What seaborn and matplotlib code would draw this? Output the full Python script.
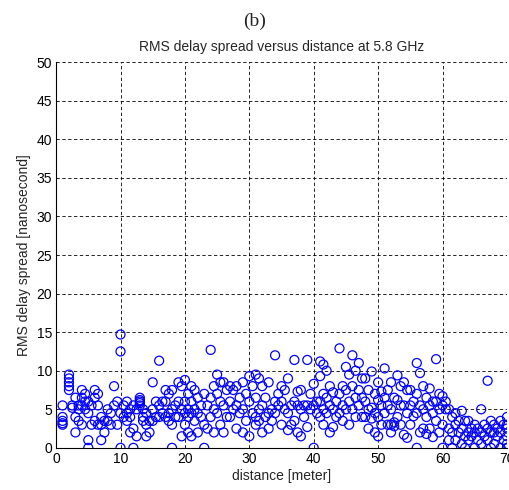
import pandas as pd
import matplotlib.pyplot as plt
import seaborn as sns

# RMS delay spread [ns] read per distance step [m]
dist_01_10 = [1, 2, 2.5, 3, 3.5, 4, 4.5, 5, 5.5, 6, 6.5, 7, 7.5, 8, 8.5, 9, 9.5, 10, 10.5]
tau_01_10 = [
    [5.5, 4.0, 3.5, 3.2, 3.0], [9.5, 9.0, 8.5, 8.0, 7.5], [5.5, 5.2],
    [6.5, 4.0, 2.0], [5.5, 5.0, 3.5], [7.5, 6.5, 5.5, 3.0], [7.0, 6.0, 5.0],
    [6.0, 4.5, 1.0, 0.0], [5.5, 3.0], [7.5, 6.5, 3.5], [7.0, 5.5, 3.0],
    [4.0, 3.0, 1.0], [3.5, 2.0], [5.0, 3.5], [4.5, 3.0], [8.0, 5.5], [6.0, 3.0],
    [14.7, 12.5, 4.5, 0.0], [5.5, 4.0],
]
dist_11_20 = [11, 11.5, 12, 12.5, 13, 13.5, 14, 14.5, 15, 15.5,
              16, 16.5, 17, 17.5, 18, 18.5, 19, 19.5, 20, 20.5]
tau_11_20 = [
    [6.0, 4.5, 3.5], [5.0, 4.0, 2.0], [5.5, 2.5, 0.0], [5.0, 1.5],
    [6.5, 6.2, 6.0, 5.8, 5.5], [5.0, 4.0, 3.5], [4.5, 3.0, 1.5], [3.5, 2.0],
    [8.5, 5.0, 3.5], [6.0, 4.0], [11.3, 5.5, 4.0], [6.0, 4.5],
    [7.5, 6.0, 4.0], [7.0, 4.5, 3.5], [7.5, 5.0, 3.0, 0.0], [5.5, 4.0],
    [8.5, 6.0, 4.0], [8.0, 5.0, 1.5], [8.8, 6.0, 4.5, 3.0], [7.0, 5.0, 4.0, 2.0],
]
dist_21_30 = [21, 21.5, 22, 22.5, 23, 23.5, 24, 24.5, 25, 25.5,
              26, 26.5, 27, 27.5, 28, 28.5, 29, 29.5, 30, 30.5]
tau_21_30 = [
    [8.0, 6.0, 4.5, 1.5], [7.5, 5.0, 3.5], [6.5, 4.5, 2.0], [5.5, 4.0],
    [7.0, 3.0, 0.0], [5.5, 2.5], [12.7, 6.5, 4.0], [8.0, 5.0, 2.0],
    [9.5, 7.0, 4.5], [8.5, 6.0, 3.0], [8.5, 5.5, 2.0], [7.5, 4.0],
    [8.0, 6.0, 4.0], [7.5, 5.0], [8.0, 5.5, 2.5], [6.5, 4.5],
    [8.5, 5.0, 2.0], [7.0, 3.5], [9.3, 6.0, 1.5], [8.0, 4.5],
]
dist_31_40 = [31, 31.5, 32, 32.5, 33, 33.5, 34, 34.5, 35, 35.5,
              36, 36.5, 37, 37.5, 38, 38.5, 39, 39.5, 40, 40.5]
tau_31_40 = [
    [9.5, 6.5, 4.0, 3.0], [9.0, 5.0, 3.5], [8.0, 5.5, 2.0], [6.5, 4.0],
    [8.5, 4.5, 2.5], [5.0, 3.5], [12.0, 6.0, 4.5], [7.0, 5.5],
    [8.0, 6.0, 3.0], [7.5, 5.0], [9.0, 4.5, 2.3], [5.5, 3.0],
    [11.4, 6.0, 3.5], [7.3, 5.5, 2.0], [7.5, 5.0, 1.5], [5.5, 4.0],
    [11.4, 5.5, 2.7], [7.0, 5.0], [8.3, 5.5, 0.0], [6.0, 4.5],
]
dist_41_50 = [41, 41.5, 42, 42.5, 43, 43.5, 44, 44.5, 45, 45.5,
              46, 46.5, 47, 47.5, 48, 48.5, 49, 49.5, 50, 50.5]
tau_41_50 = [
    [11.2, 9.3, 6.0, 4.0], [10.8, 7.0, 5.0, 3.0], [10.0, 6.5, 4.5], [8.0, 5.5, 2.0],
    [7.2, 5.0, 2.7], [6.0, 4.0], [12.9, 7.0, 4.5], [8.0, 5.5, 3.5],
    [10.5, 7.5, 5.0], [9.5, 6.0, 3.0], [12.0, 8.0, 5.0], [10.0, 6.5, 4.0],
    [11.0, 7.5, 5.5], [9.0, 6.5, 4.0], [9.0, 6.0, 4.0], [7.5, 5.0, 2.5],
    [9.9, 5.2, 3.8], [7.0, 4.5, 2.0], [8.5, 6.2, 4.0, 1.5], [7.3, 5.5, 3.0],
]
dist_51_60 = [51, 51.5, 52, 52.5, 53, 53.5, 54, 54.5, 55, 55.5,
              56, 56.5, 57, 57.5, 58, 58.5, 59, 59.5, 60, 60.5]
tau_51_60 = [
    [10.3, 6.5, 4.5], [7.5, 5.5, 3.0], [8.5, 5.0, 3.0, 2.0], [6.5, 3.3, 2.8],
    [9.4, 6.2, 4.0], [8.0, 5.5, 3.0], [8.5, 5.5, 1.7], [7.5, 4.5, 1.3],
    [7.5, 5.5, 3.0], [6.0, 4.1], [11.0, 7.0, 4.5, 0.0], [9.7, 5.5, 2.0],
    [8.0, 5.0, 2.5], [6.5, 4.0, 1.8], [7.7, 5.5, 2.5], [6.0, 4.5, 1.4],
    [11.5, 6.0, 3.5], [7.0, 5.0, 2.0], [6.7, 5.5, 3.0, 0.0], [6.0, 5.0],
]
dist_61_70 = [61, 61.5, 62, 62.5, 63, 63.5, 64, 64.5, 65, 65.5,
              66, 66.5, 67, 67.5, 68, 68.5, 69, 69.5, 70]
tau_61_70 = [
    [5.0, 2.5, 1.0], [4.0, 2.0, 0.0], [4.5, 3.0, 1.0], [3.5, 2.0],
    [4.8, 2.5, 0.5], [3.5, 1.5, 0.0], [3.5, 2.0, 1.0], [2.5, 1.5],
    [3.0, 2.0, 0.0], [2.5, 1.0], [5.0, 2.0, 0.5], [3.0, 1.5],
    [8.7, 2.5, 1.0], [3.5, 2.0, 0.0], [3.0, 2.0, 0.5], [2.5, 1.5],
    [3.5, 2.0, 0.0], [3.0, 1.0], [4.0, 3.0, 2.5, 1.5, 0.5, 0.0],
]

segments = [(dist_01_10, tau_01_10), (dist_11_20, tau_11_20), (dist_21_30, tau_21_30),
            (dist_31_40, tau_31_40), (dist_41_50, tau_41_50), (dist_51_60, tau_51_60),
            (dist_61_70, tau_61_70)]
rows = []
for dists, taus in segments:
    for d, vals in zip(dists, taus):
        for v in vals:
            rows.append({"distance": d, "rms": v})
df = pd.DataFrame(rows)

sns.set_style("white")
plt.rcParams['font.family'] = ['Liberation Sans', 'DejaVu Sans']

fig = plt.figure(figsize=(5.1, 4.9), dpi=100)
ax = fig.add_axes([0.110, 0.086, 0.884, 0.787])

sns.scatterplot(data=df, x="distance", y="rms", ax=ax, marker="o", s=42,
                facecolors="none", edgecolor="#0000ff", linewidth=0.9)

ax.set_xlim(0, 70)
ax.set_ylim(0, 50)
ax.set_xticks(range(0, 71, 10))
ax.set_yticks(range(0, 51, 5))
ax.grid(True, color="black", linestyle=(0, (4, 3)), linewidth=0.6)
ax.set_axisbelow(True)
for side in ["top", "right"]:
    ax.spines[side].set_visible(False)
for side in ["left", "bottom"]:
    ax.spines[side].set_color("black")
    ax.spines[side].set_linewidth(0.8)
ax.tick_params(direction="in", length=4, labelsize=10, colors="black", pad=3)

ax.set_xlabel("distance [meter]", fontsize=10, labelpad=2)
ax.set_ylabel("RMS delay spread [nanosecond]", fontsize=10, labelpad=4)
ax.set_title("RMS delay spread versus distance at 5.8 GHz", fontsize=10, pad=8)
fig.text(0.5, 0.975, "(b)", ha="center", va="top", fontsize=14, family="Liberation Serif")

plt.savefig("out.png", dpi=100)
